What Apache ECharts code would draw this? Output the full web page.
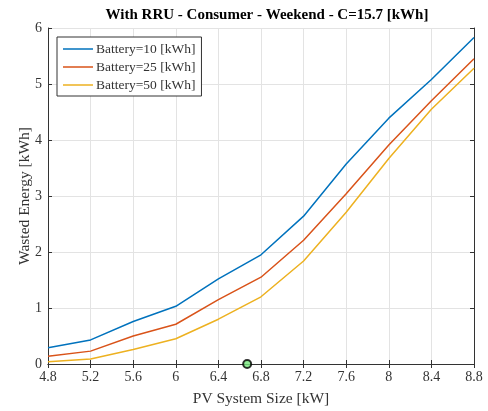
<!DOCTYPE html>
<html>
<head>
<meta charset="utf-8">
<script src="https://cdn.jsdelivr.net/npm/echarts@6/dist/echarts.min.js"></script>
<style>
  html, body { margin: 0; padding: 0; background: #fff; }
  #chart { width: 488px; height: 411px; }
</style>
</head>
<body>
<div id="chart"></div>
<script>
    // PV sizes (kW)
    var pvSizes = [4.8, 5.2, 5.6, 6.0, 6.4, 6.8, 7.2, 7.6, 8.0, 8.4, 8.8];
    var battery10 = [0.29, 0.43, 0.76, 1.03, 1.52, 1.95, 2.64, 3.57, 4.39, 5.08, 5.83];
    var battery25 = [0.14, 0.23, 0.50, 0.71, 1.15, 1.55, 2.21, 3.04, 3.91, 4.70, 5.45];
    var battery50 = [0.04, 0.09, 0.26, 0.45, 0.80, 1.20, 1.84, 2.71, 3.67, 4.55, 5.28];
    var marker = [[6.67, 0]];
    var xTicks = [4.8, 5.2, 5.6, 6, 6.4, 6.8, 7.2, 7.6, 8, 8.4, 8.8];

    var font = 'Liberation Serif';
    var textColor = '#333333';

    function pairs(ys) {
        return pvSizes.map(function (x, i) { return [x, ys[i]]; });
    }

    function fmtX(v) {
        return String(Math.round(v * 10) / 10);
    }

    var chart = echarts.init(document.getElementById('chart'));
    var frameAxis = {
        axisLine: {show: true, lineStyle: {color: '#333333', width: 1}},
        axisTick: {show: true, inside: true, length: 4, lineStyle: {color: '#333333'}},
        axisLabel: {show: false},
        splitLine: {show: false}
    };

    chart.setOption({
        animation: false,
        title: {
            text: 'With RRU - Consumer - Weekend - C=15.7 [kWh]',
            left: 262,
            top: 3,
            textAlign: 'center',
            textStyle: {fontFamily: font, fontSize: 15, fontWeight: 'bold', color: '#000'}
        },
        grid: {left: 48, right: 14, top: 28, bottom: 47, containLabel: false, outerBoundsMode: 'none'},
        legend: {
            orient: 'vertical',
            left: 57,
            top: 37,
            padding: [5, 6, 4, 6],
            itemGap: 4,
            itemWidth: 30,
            itemHeight: 12,
            backgroundColor: '#fff',
            borderColor: '#333333',
            borderWidth: 1,
            borderRadius: 0,
            icon: 'path://M0,5 L30,5 L30,6.5 L0,6.5 Z',
            data: ['Battery=10 [kWh]', 'Battery=25 [kWh]', 'Battery=50 [kWh]'],
            textStyle: {fontFamily: font, fontSize: 13.5, color: textColor, padding: [0, 0, 0, -2]}
        },
        xAxis: [{
            type: 'value',
            min: 4.8,
            max: 8.8,
            interval: 0.4,
            name: 'PV System Size [kW]',
            nameLocation: 'middle',
            nameGap: 27,
            nameMoveOverlap: false,
            nameTextStyle: {fontFamily: font, fontSize: 15.5, color: textColor},
            axisLine: {show: true, lineStyle: {color: '#333333'}},
            axisTick: {show: true, inside: true, length: 4, lineStyle: {color: '#333333'}},
            axisLabel: {fontFamily: font, fontSize: 14, color: textColor, margin: 6,
                formatter: function (v) { return fmtX(v); }},
            splitLine: {show: true, lineStyle: {color: '#e3e3e3'}}
        }, Object.assign({
            type: 'value', position: 'top', min: 4.8, max: 8.8, interval: 0.4
        }, frameAxis)],
        yAxis: [{
            type: 'value',
            min: 0,
            max: 6,
            interval: 1,
            name: 'Wasted Energy [kWh]',
            nameLocation: 'middle',
            nameGap: 15,
            nameMoveOverlap: false,
            nameTextStyle: {fontFamily: font, fontSize: 15.5, color: textColor},
            axisLine: {show: true, lineStyle: {color: '#333333'}},
            axisTick: {show: true, inside: true, length: 4, lineStyle: {color: '#333333'}},
            axisLabel: {fontFamily: font, fontSize: 14, color: textColor, margin: 6},
            splitLine: {show: true, lineStyle: {color: '#e3e3e3'}}
        }, Object.assign({
            type: 'value', position: 'right', min: 0, max: 6, interval: 1
        }, frameAxis)],
        series: [{
            name: 'Battery=10 [kWh]',
            type: 'line',
            data: pairs(battery10),
            symbol: 'none',
            color: '#0072BD',
            lineStyle: {width: 1.5}
        }, {
            name: 'Battery=25 [kWh]',
            type: 'line',
            data: pairs(battery25),
            symbol: 'none',
            color: '#D95319',
            lineStyle: {width: 1.5}
        }, {
            name: 'Battery=50 [kWh]',
            type: 'line',
            data: pairs(battery50),
            symbol: 'none',
            color: '#EDB120',
            lineStyle: {width: 1.5}
        }, {
            name: 'marker',
            type: 'scatter',
            data: marker,
            symbol: 'circle',
            symbolSize: 8,
            itemStyle: {color: '#77e87d', borderColor: '#000', borderWidth: 2},
            z: 10
        }]
    });
</script>
</body>
</html>
